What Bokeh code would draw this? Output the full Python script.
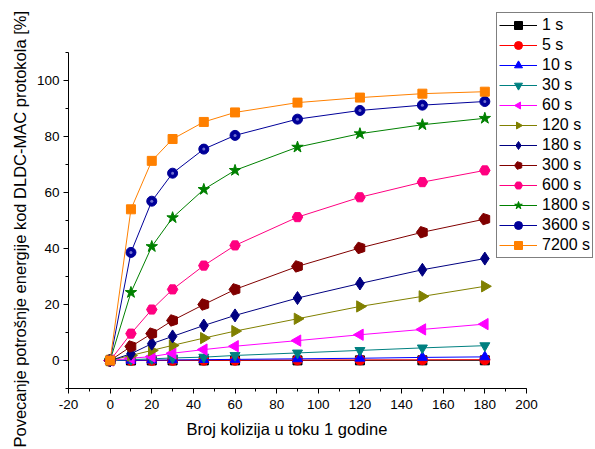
import math
from bokeh.plotting import figure
from bokeh.models import Legend, LegendItem, Range1d, FixedTicker, ColumnDataSource, Title
from bokeh.embed import file_html
from bokeh.resources import INLINE

x = [0, 10, 20, 30, 45, 60, 90, 120, 150, 180]
labels = ["1 s", "5 s", "10 s", "30 s", "60 s", "120 s", "180 s",
          "300 s", "600 s", "1800 s", "3600 s", "7200 s"]
s1 = [0, 0.0, 0.01, 0.01, 0.02, 0.03, 0.04, 0.05, 0.06, 0.07]
s5 = [0, 0.02, 0.04, 0.05, 0.08, 0.1, 0.15, 0.2, 0.25, 0.3]
s10 = [0, 0.08, 0.15, 0.2, 0.3, 0.4, 0.6, 0.8, 1.1, 1.3]
s30 = [0, 0.3, 0.6, 0.9, 1.2, 1.8, 2.7, 3.6, 4.5, 5.3]
s60 = [0, 0.8, 1.4, 2.6, 3.9, 5.1, 7.1, 9.2, 11.1, 13.0]
s120 = [0, 1.8, 3.6, 5.4, 8.0, 10.5, 14.9, 19.3, 22.9, 26.5]
s180 = [0, 2.4, 6.0, 8.6, 12.5, 16.1, 22.3, 27.5, 32.4, 36.4]
s300 = [0, 5.0, 9.6, 14.3, 20.0, 25.4, 33.6, 40.2, 45.8, 50.5]
s600 = [0, 9.6, 18.2, 25.4, 33.9, 41.1, 51.2, 58.3, 63.7, 67.9]
s1800 = [0, 24.3, 40.7, 51.0, 61.1, 67.9, 76.2, 81.0, 84.2, 86.5]
s3600 = [0, 38.6, 56.9, 66.9, 75.5, 80.4, 86.2, 89.3, 91.2, 92.5]
s7200 = [0, 54.0, 71.3, 79.1, 85.2, 88.6, 92.1, 93.9, 95.3, 96.0]
x_ticks = list(range(-20, 201, 20))
y_ticks = list(range(0, 101, 20))

series = [s1, s5, s10, s30, s60, s120, s180, s300, s600, s1800, s3600, s7200]
colors = ["#000000", "#FF0000", "#0000FF", "#008080", "#FF00FF", "#808000",
          "#000080", "#800000", "#FF0080", "#008000", "#000099", "#FF8000"]
# marker kind: (name, ngon sides, ngon angle)
markers = [("square", 0, 0), ("circle", 0, 0), ("triangle", 0, 0),
           ("inverted_triangle", 0, 0), ("ngon", 3, math.pi / 2),
           ("ngon", 3, -math.pi / 2), ("diamond", 0, 0), ("ngon", 5, math.pi / 2),
           ("hex", 0, 0), ("star", 0, 0), ("circle", 0, 0), ("square", 0, 0)]
sizes = [9, 10, 10, 10, 6.5, 6.5, 13, 6, 10.5, 12, 10, 9]

p = figure(width=595, height=449, output_backend="svg", toolbar_location=None,
           x_range=Range1d(-20, 232.2), y_range=Range1d(-10, 125),
           min_border_left=68, min_border_right=2, min_border_top=10,
           min_border_bottom=61)
p.outline_line_color = None
p.xgrid.visible = False
p.ygrid.visible = False
p.background_fill_color = "white"
p.border_fill_color = "white"

for ax in (p.xaxis[0], p.yaxis[0]):
    ax.axis_line_color = "black"
    ax.major_tick_line_color = "black"
    ax.minor_tick_line_color = "black"
    ax.major_tick_out = 5
    ax.major_tick_in = 0
    ax.minor_tick_out = 3
    ax.minor_tick_in = 0
    ax.major_label_text_font = "Liberation Sans"
    ax.major_label_text_font_size = "13.5px"
    ax.major_label_text_color = "black"
    ax.major_label_standoff = 4
p.xaxis.major_label_standoff = 6

p.xaxis.bounds = (-20, 200)
p.yaxis.bounds = (-10, 110)
p.xaxis.ticker = FixedTicker(ticks=x_ticks, minor_ticks=list(range(-20, 201, 10)))
p.yaxis.ticker = FixedTicker(ticks=y_ticks, minor_ticks=list(range(-10, 111, 10)))
p.xaxis.major_label_overrides = {t: str(t) for t in x_ticks}

xt = Title(text="Broj kolizija u toku 1 godine", align="left", offset=118,
           text_font="Liberation Sans", text_font_size="16.5px",
           text_font_style="normal", text_color="black", standoff=13)
p.add_layout(xt, "below")
yt = Title(text="Povecanje potrošnje energije kod DLDC-MAC protokola [%]",
           align="left", offset=-59, text_font="Liberation Sans",
           text_font_size="16.5px", text_font_style="normal", text_color="black",
           standoff=9)
p.add_layout(yt, "left")

items = []
for lab, ys, c, (m, n, a), sz in zip(labels, series, colors, markers, sizes):
    src = ColumnDataSource(dict(x=x, y=ys))
    r_line = p.line("x", "y", source=src, line_color=c, line_width=1)
    rs = [r_line]
    if m == "ngon":
        r_m = p.ngon("x", "y", source=src, radius=sz, radius_units="screen", n=n,
                     angle=a, fill_color=c, line_color=c)
    else:
        r_m = p.scatter("x", "y", source=src, marker=m, size=sz,
                        fill_color=c, line_color=c)
    rs.append(r_m)
    if lab == "3600 s":
        p.scatter("x", "y", source=src, marker="circle", size=3,
                  fill_color="#7070d0", line_color=None)
    items.append(LegendItem(label=lab, renderers=rs))

legend = Legend(items=items, location=(428, 130), orientation="vertical")
legend.border_line_color = "black"
legend.border_line_width = 1
legend.background_fill_color = "white"
legend.background_fill_alpha = 1
legend.label_text_font = "Liberation Sans"
legend.label_text_font_size = "16px"
legend.label_text_color = "black"
legend.glyph_width = 38
legend.glyph_height = 20
legend.label_height = 20
legend.label_standoff = 5
legend.spacing = 0
legend.padding = 2
legend.margin = 0
p.add_layout(legend, "center")

open("out.html", "w").write(file_html(p, INLINE))
